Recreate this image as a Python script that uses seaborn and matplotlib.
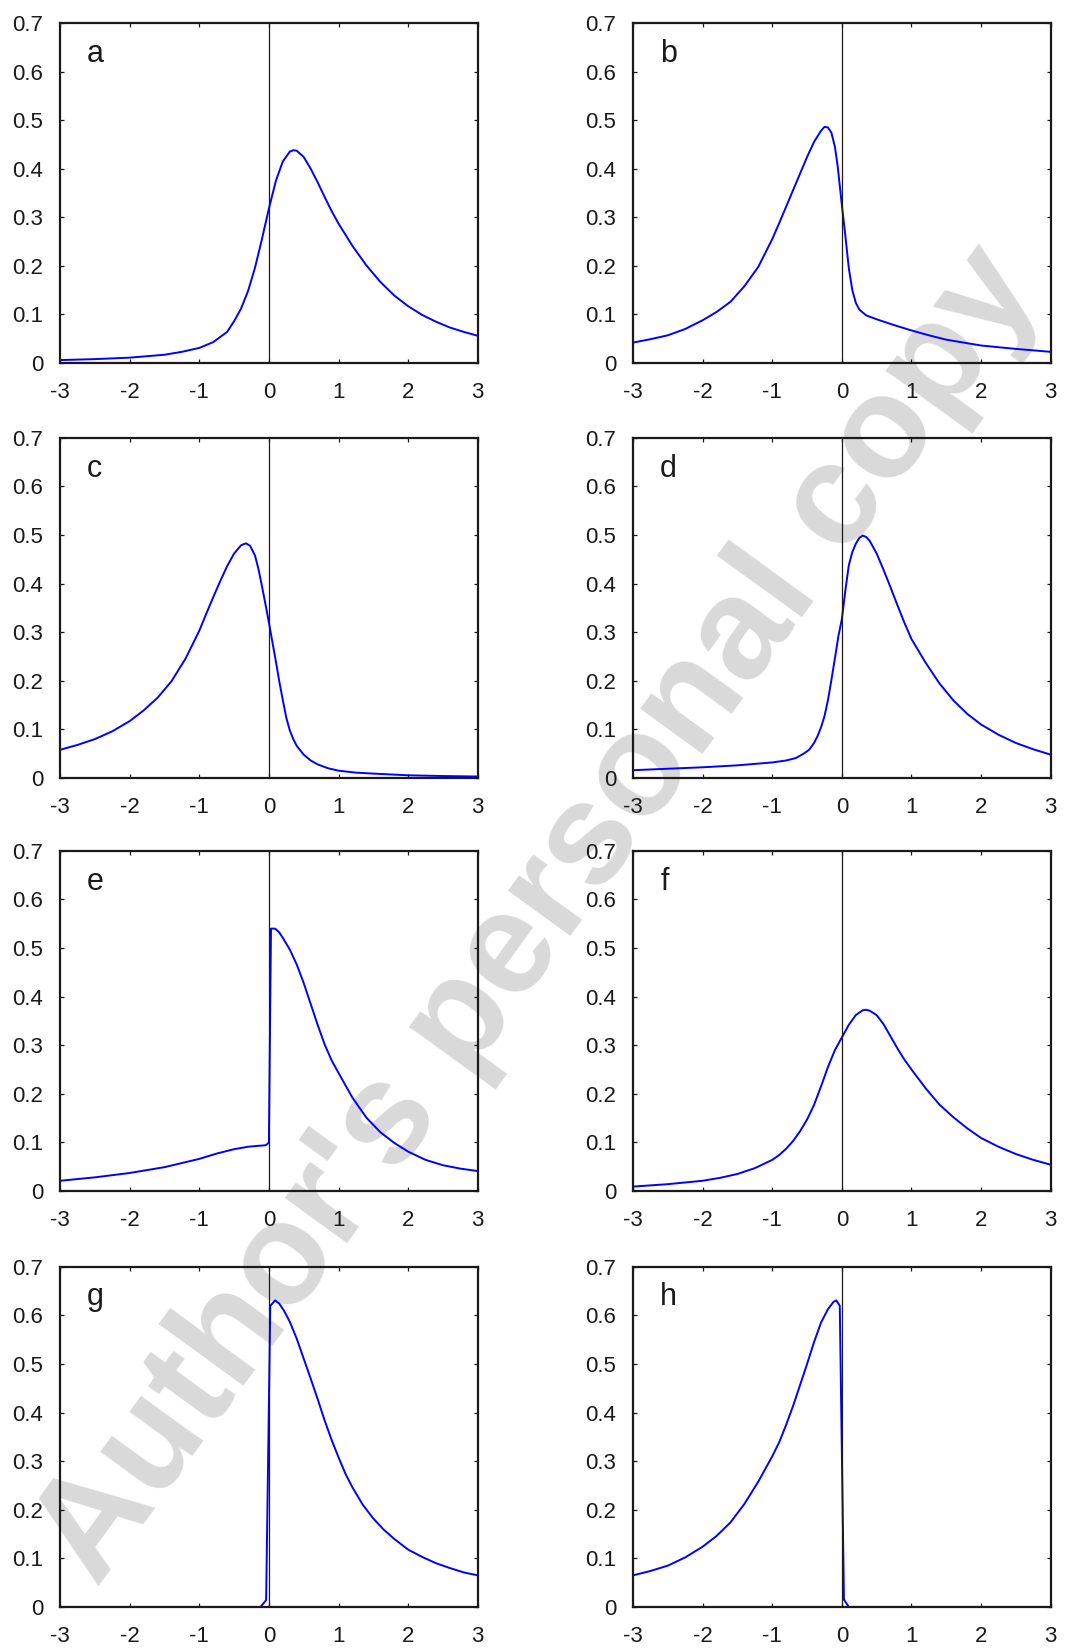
import matplotlib
matplotlib.use("Agg")
import matplotlib.pyplot as plt
import seaborn as sns
import pandas as pd

# valores (x, densidade) -------------------------------------------------
a_x = [-3, -2.5, -2, -1.5, -1.25, -1, -0.8, -0.6, -0.5, -0.4, -0.3, -0.2, -0.1, 0,
       0.1, 0.2, 0.3, 0.35, 0.4, 0.5, 0.6, 0.7, 0.8, 0.9, 1.0, 1.2, 1.4, 1.6, 1.8,
       2.0, 2.2, 2.4, 2.6, 2.8, 3.0]
a_y = [0.006, 0.008, 0.011, 0.017, 0.023, 0.031, 0.043, 0.064, 0.086, 0.112, 0.148,
       0.196, 0.255, 0.318, 0.375, 0.415, 0.435, 0.438, 0.437, 0.424, 0.400, 0.372,
       0.342, 0.313, 0.287, 0.241, 0.201, 0.167, 0.139, 0.117, 0.099, 0.085, 0.073,
       0.064, 0.056]

b_x = [-3, -2.75, -2.5, -2.25, -2, -1.8, -1.6, -1.4, -1.2, -1.0, -0.9, -0.8, -0.7,
       -0.6, -0.5, -0.4, -0.3, -0.25, -0.2, -0.15, -0.1, -0.06, -0.03, 0, 0.05, 0.1,
       0.15, 0.2, 0.25, 0.35, 0.5, 0.75, 1.0, 1.25, 1.5, 2.0, 2.5, 3.0]
b_y = [0.042, 0.049, 0.057, 0.070, 0.088, 0.105, 0.126, 0.158, 0.198, 0.255, 0.288,
       0.322, 0.356, 0.390, 0.424, 0.455, 0.478, 0.486, 0.485, 0.474, 0.445, 0.405,
       0.365, 0.325, 0.262, 0.195, 0.150, 0.124, 0.110, 0.098, 0.090, 0.078, 0.067,
       0.057, 0.048, 0.036, 0.029, 0.023]

c_x = [-3, -2.75, -2.5, -2.25, -2, -1.8, -1.6, -1.4, -1.2, -1.0, -0.9, -0.8, -0.7,
       -0.6, -0.5, -0.4, -0.33, -0.27, -0.2, -0.15, -0.1, -0.05, 0, 0.05, 0.1, 0.15,
       0.2, 0.25, 0.3, 0.35, 0.4, 0.5, 0.6, 0.7, 0.85, 1.0, 1.25, 1.5, 2.0, 2.5, 3]
c_y = [0.058, 0.068, 0.080, 0.096, 0.117, 0.139, 0.165, 0.199, 0.245, 0.303, 0.338,
       0.372, 0.405, 0.436, 0.462, 0.479, 0.483, 0.478, 0.458, 0.430, 0.395, 0.358,
       0.320, 0.280, 0.240, 0.198, 0.160, 0.124, 0.098, 0.080, 0.066, 0.048, 0.036,
       0.028, 0.020, 0.015, 0.011, 0.009, 0.0055, 0.004, 0.003]

d_x = [-3, -2.5, -2, -1.5, -1, -0.8, -0.66, -0.55, -0.47, -0.4, -0.35, -0.3, -0.25,
       -0.2, -0.15, -0.1, -0.05, 0, 0.05, 0.1, 0.15, 0.2, 0.25, 0.3, 0.35, 0.4, 0.5,
       0.6, 0.7, 0.8, 0.9, 1.0, 1.2, 1.4, 1.6, 1.8, 2.0, 2.25, 2.5, 2.75, 3]
d_y = [0.016, 0.019, 0.022, 0.026, 0.032, 0.036, 0.041, 0.050, 0.058, 0.072, 0.086,
       0.104, 0.127, 0.160, 0.202, 0.246, 0.292, 0.327, 0.386, 0.438, 0.465, 0.482,
       0.494, 0.499, 0.496, 0.488, 0.462, 0.428, 0.392, 0.355, 0.319, 0.286, 0.238,
       0.195, 0.160, 0.132, 0.110, 0.089, 0.072, 0.059, 0.048]

e_x = [-3, -2.5, -2, -1.5, -1.0, -0.75, -0.5, -0.3, -0.15, -0.05, -0.02, 0, 0.03,
       0.09, 0.15, 0.2, 0.3, 0.4, 0.5, 0.6, 0.7, 0.8, 0.9, 1.0, 1.2, 1.4, 1.6, 1.8,
       2.0, 2.25, 2.5, 2.75, 3]
e_y = [0.021, 0.028, 0.037, 0.049, 0.066, 0.077, 0.086, 0.091, 0.093, 0.094, 0.097,
       0.100, 0.540, 0.540, 0.532, 0.521, 0.497, 0.466, 0.428, 0.385, 0.342, 0.302,
       0.269, 0.243, 0.192, 0.151, 0.121, 0.099, 0.081, 0.064, 0.053, 0.046, 0.041]

f_x = [-3, -2.5, -2, -1.75, -1.5, -1.25, -1, -0.9, -0.8, -0.7, -0.6, -0.5, -0.4,
       -0.3, -0.2, -0.1, 0, 0.1, 0.2, 0.3, 0.35, 0.4, 0.5, 0.6, 0.7, 0.8, 0.9, 1.0,
       1.2, 1.4, 1.6, 1.8, 2.0, 2.25, 2.5, 2.75, 3]
f_y = [0.009, 0.014, 0.021, 0.027, 0.035, 0.047, 0.064, 0.074, 0.087, 0.103, 0.123,
       0.147, 0.177, 0.215, 0.255, 0.290, 0.316, 0.342, 0.362, 0.372, 0.373, 0.371,
       0.362, 0.343, 0.318, 0.293, 0.270, 0.250, 0.212, 0.178, 0.152, 0.129, 0.109,
       0.091, 0.076, 0.064, 0.054]

g_x = [-3, -1, -0.12, -0.04, 0.02, 0.09, 0.15, 0.216, 0.3, 0.4, 0.5, 0.6, 0.7, 0.8,
       0.9, 1.0, 1.1, 1.2, 1.35, 1.5, 1.65, 1.8, 2.0, 2.2, 2.4, 2.6, 2.8, 3.0]
g_y = [0.0, 0.0, 0.0, 0.014, 0.620, 0.631, 0.624, 0.610, 0.587, 0.552, 0.511, 0.470,
       0.428, 0.384, 0.344, 0.308, 0.274, 0.246, 0.210, 0.182, 0.159, 0.140, 0.118,
       0.103, 0.090, 0.080, 0.071, 0.065]

h_x = [-3, -2.75, -2.5, -2.25, -2, -1.8, -1.6, -1.4, -1.2, -1.0, -0.9, -0.8, -0.7,
       -0.6, -0.5, -0.4, -0.3, -0.2, -0.12, -0.08, -0.03, 0.03, 0.1, 3]
h_y = [0.065, 0.074, 0.085, 0.102, 0.124, 0.146, 0.174, 0.212, 0.258, 0.310, 0.339,
       0.375, 0.414, 0.457, 0.500, 0.545, 0.585, 0.613, 0.628, 0.631, 0.620, 0.015,
       0.0, 0.0]

x_ticks = [-3, -2, -1, 0, 1, 2, 3]
x_labels = ['-3', '-2', '-1', '0', '1', '2', '3']
y_ticks = [0, 0.1, 0.2, 0.3, 0.4, 0.5, 0.6, 0.7]
y_labels = ['0', '0.1', '0.2', '0.3', '0.4', '0.5', '0.6', '0.7']

paineis = [('a', a_x, a_y), ('b', b_x, b_y), ('c', c_x, c_y), ('d', d_x, d_y),
           ('e', e_x, e_y), ('f', f_x, f_y), ('g', g_x, g_y), ('h', h_x, h_y)]

# estilo ------------------------------------------------------------------
sns.set_theme(style="ticks")
plt.rcParams['font.family'] = ['Liberation Sans', 'DejaVu Sans']
plt.rcParams['axes.unicode_minus'] = False

fig = plt.figure(figsize=(10.78, 16.5), dpi=100)
fig.patch.set_facecolor('white')

# marca d'agua por baixo de tudo
fig.text(0.5, 0.445, "Author's personal copy", rotation=54, fontsize=104,
         fontweight='bold', color='#d9d9d9', ha='center', va='center',
         zorder=-10, family='Liberation Sans')

lefts = [0.0557, 0.5872]
bottoms = [0.780, 0.5285, 0.2782, 0.0261]
w, h = 0.3875, 0.2061

for i, (letra, xs, ys) in enumerate(paineis):
    row, col = divmod(i, 2)
    ax = fig.add_axes([lefts[col], bottoms[row], w, h])
    ax.set_facecolor('none')
    df = pd.DataFrame({'x': xs, 'y': ys})
    sns.lineplot(data=df, x='x', y='y', ax=ax, color='#0000ff', linewidth=1.4,
                 sort=False, estimator=None)
    ax.axvline(0, color='k', linewidth=0.9)
    ax.set_xlim(-3, 3)
    ax.set_ylim(0, 0.7)
    ax.set_xticks(x_ticks)
    ax.set_xticklabels(x_labels)
    ax.set_yticks(y_ticks)
    ax.set_yticklabels(y_labels)
    ax.set_xlabel('')
    ax.set_ylabel('')
    ax.tick_params(direction='in', top=True, right=True, length=3, width=0.9,
                   labelsize=16, colors='k')
    ax.tick_params(axis='x', pad=14)
    ax.tick_params(axis='y', pad=12)
    for s in ax.spines.values():
        s.set_linewidth(1.6)
        s.set_color('k')
        s.set_visible(True)
    ax.text(0.065, 0.91, letra, transform=ax.transAxes, fontsize=22,
            ha='left', va='center', color='k')

fig.savefig('out.png', dpi=100, facecolor='white')
